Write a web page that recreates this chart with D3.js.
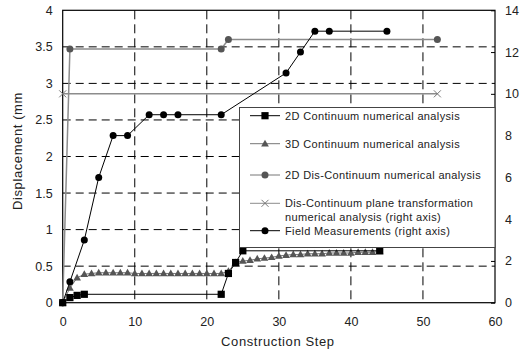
<!DOCTYPE html>
<html>
<head>
<meta charset="utf-8">
<script src="https://cdn.jsdelivr.net/npm/d3@7"></script>
<style>
  body { margin: 0; background: #fff; }
  text { font-family: "Liberation Sans", Arial, sans-serif; fill: #222; }
</style>
</head>
<body>
<script>
// 数据：值
var xTicks = [0, 10, 20, 30, 40, 50, 60];
var yLeftTicks = [0, 0.5, 1, 1.5, 2, 2.5, 3, 3.5, 4];
var yRightTicks = [0, 2, 4, 6, 8, 10, 12, 14];

// 2D Continuum (left axis)
var cont2DSteps = [0, 1, 2, 3, 22, 23, 24, 25, 44];
var cont2DValues = [0, 0.07, 0.10, 0.115, 0.115, 0.40, 0.55, 0.71, 0.71];

// 3D Continuum (left axis)
var cont3DSteps = [0, 1, 2, 3, 4, 5, 6, 7, 8, 9, 10, 11, 12, 13, 14, 15, 16, 17, 18, 19, 20, 21, 22,
  23, 24, 25, 26, 27, 28, 29, 30, 31, 32, 33, 34, 35, 36, 37, 38, 39, 40, 41, 42, 43, 44];
var cont3DValues = [0, 0.20, 0.34, 0.39, 0.40, 0.41, 0.41, 0.41, 0.41, 0.41, 0.40, 0.40, 0.40, 0.40, 0.40,
  0.40, 0.40, 0.40, 0.40, 0.40, 0.40, 0.40, 0.40,
  0.43, 0.55, 0.57, 0.58, 0.60, 0.61, 0.62, 0.64, 0.65, 0.66, 0.66, 0.67, 0.67, 0.67, 0.68, 0.68,
  0.68, 0.68, 0.69, 0.69, 0.69, 0.70];

// 2D Dis-Continuum (left axis)
var disc2DSteps = [0, 1, 22, 23, 52];
var disc2DValues = [0, 3.47, 3.47, 3.6, 3.6];

// Dis-Continuum plane transformation (right axis)
var planeSteps = [0, 52];
var planeValues = [10, 10];

// Field Measurements (right axis)
var fieldSteps = [0, 1, 3, 5, 7, 9, 12, 14, 16, 22, 31, 33, 35, 37, 45];
var fieldValues = [0, 1.0, 3.0, 6.0, 8.0, 8.0, 9.0, 9.0, 9.0, 9.0, 11.0, 12.0, 13.0, 13.0, 13.0];

var legendNames = [
  ["2D Continuum numerical analysis"],
  ["3D Continuum numerical analysis"],
  ["2D Dis-Continuum numerical analysis"],
  ["Dis-Continuum plane transformation", "numerical analysis (right axis)"],
  ["Field Measurements (right axis)"]
];

var width = 526, height = 351;
var margin = { top: 10.3, right: 31, bottom: 48.3, left: 62.7 };
var x0 = margin.left, x1 = width - margin.right;
var yTop = margin.top, yBot = height - margin.bottom;

var svg = d3.select("body").append("svg").attr("width", width).attr("height", height);

var x = d3.scaleLinear().domain([0, 60]).range([x0, x1]);
var yL = d3.scaleLinear().domain([0, 4]).range([yBot, yTop]);
var yR = d3.scaleLinear().domain([0, 14]).range([yBot, yTop]);

// 网格线
var grid = svg.append("g");
grid.selectAll(".hg").data(yLeftTicks.filter(function (d) { return d > 0 && d < 4; }))
  .enter().append("line")
  .attr("x1", x0).attr("x2", x1)
  .attr("y1", function (d) { return yL(d); }).attr("y2", function (d) { return yL(d); })
  .attr("stroke", "#000").attr("stroke-width", 1).attr("stroke-dasharray", "8,5");
grid.selectAll(".vg").data(xTicks.filter(function (d) { return d > 0 && d < 60; }))
  .enter().append("line")
  .attr("x1", function (d) { return x(d); }).attr("x2", function (d) { return x(d); })
  .attr("y1", yTop).attr("y2", yBot)
  .attr("stroke", "#000").attr("stroke-width", 1).attr("stroke-dasharray", "9,5");

// 坐标轴
var axL = svg.append("g").attr("transform", "translate(" + x0 + ",0)")
  .call(d3.axisLeft(yL).tickValues(yLeftTicks).tickSize(0).tickPadding(10).tickFormat(d3.format("")));
var axR = svg.append("g").attr("transform", "translate(" + x1 + ",0)")
  .call(d3.axisRight(yR).tickValues(yRightTicks).tickSizeInner(-4).tickSizeOuter(0).tickPadding(10));
var axB = svg.append("g").attr("transform", "translate(0," + yBot + ")")
  .call(d3.axisBottom(x).tickValues(xTicks).tickSize(0).tickPadding(14));
[axL, axR, axB].forEach(function (a) {
  a.select(".domain").remove();
  a.selectAll("text").style("font-size", "12.5px").attr("fill", "#333");
  a.selectAll("line").attr("stroke", "#000");
});

svg.append("rect").attr("x", x0).attr("y", yTop)
  .attr("width", x1 - x0).attr("height", yBot - yTop)
  .attr("fill", "none").attr("stroke", "#000").attr("stroke-width", 1.2);

// 轴标题
svg.append("text").attr("x", (x0 + x1) / 2 - 1).attr("y", 346)
  .attr("text-anchor", "middle").style("font-size", "13px").style("letter-spacing", "0.6px")
  .attr("fill", "#333").text("Construction Step");
svg.append("text").attr("transform", "translate(22,151) rotate(-90)")
  .attr("text-anchor", "middle").style("font-size", "13px").style("letter-spacing", "0.6px")
  .attr("fill", "#333").text("Displacement (mm");

function toPts(steps, vals, ys) {
  return steps.map(function (s, i) { return [x(s), ys(vals[i])]; });
}
var line = d3.line();

function drawMarker(g, type, cx, cy, fill, stroke) {
  if (type === "square") {
    g.append("rect").attr("x", cx - 3.6).attr("y", cy - 3.6).attr("width", 7.2).attr("height", 7.2)
      .attr("fill", fill);
  } else if (type === "triangle") {
    g.append("path").attr("d", d3.symbol().type(d3.symbolTriangle).size(26)())
      .attr("transform", "translate(" + cx + "," + (cy + 0.5) + ")").attr("fill", fill);
  } else if (type === "circle") {
    g.append("circle").attr("cx", cx).attr("cy", cy).attr("r", 3.5).attr("fill", fill);
  } else if (type === "x") {
    g.append("path").attr("d", "M-3.5,-3.5L3.5,3.5M-3.5,3.5L3.5,-3.5")
      .attr("transform", "translate(" + cx + "," + cy + ")")
      .attr("stroke", stroke).attr("stroke-width", 1).attr("fill", "none");
  }
}

var series = [
  { steps: planeSteps, vals: planeValues, y: yR, lc: "#8c8c8c", lw: 1.5, mk: "x", mf: "#777", ms: "#777" },
  { steps: disc2DSteps, vals: disc2DValues, y: yL, lc: "#8c8c8c", lw: 1.5, mk: "circle", mf: "#555", ms: "#555" },
  { steps: cont3DSteps, vals: cont3DValues, y: yL, lc: "#777", lw: 1, mk: "triangle", mf: "#555", ms: "#555" },
  { steps: cont2DSteps, vals: cont2DValues, y: yL, lc: "#000", lw: 1, mk: "square", mf: "#000", ms: "#000" },
  { steps: fieldSteps, vals: fieldValues, y: yR, lc: "#000", lw: 1, mk: "circle", mf: "#000", ms: "#000" }
];

series.forEach(function (s) {
  var g = svg.append("g");
  var pts = toPts(s.steps, s.vals, s.y);
  g.append("path").attr("d", line(pts)).attr("fill", "none")
    .attr("stroke", s.lc).attr("stroke-width", s.lw);
  pts.forEach(function (p) { drawMarker(g, s.mk, p[0], p[1], s.mf, s.ms); });
});

// 图例
var lg = svg.append("g");
lg.append("rect").attr("x", 239.5).attr("y", 107.5).attr("width", x1 - 239.5).attr("height", 140)
  .attr("fill", "#fff").attr("stroke", "#444").attr("stroke-width", 1);
var legendStyle = [
  { y: 115.7, lc: "#000", mk: "square", mf: "#000" },
  { y: 143.7, lc: "#777", mk: "triangle", mf: "#555" },
  { y: 175, lc: "#777", mk: "circle", mf: "#555" },
  { y: 203.3, lc: "#8c8c8c", mk: "x", mf: "#777" },
  { y: 230.7, lc: "#000", mk: "circle", mf: "#000" }
];
legendStyle.forEach(function (st, i) {
  lg.append("line").attr("x1", 250).attr("x2", 280).attr("y1", st.y).attr("y2", st.y)
    .attr("stroke", st.lc).attr("stroke-width", 1);
  drawMarker(lg, st.mk, 265, st.y, st.mf, st.mf);
  legendNames[i].forEach(function (t, j) {
    lg.append("text").attr("x", 285).attr("y", st.y + 4 + j * 13.4)
      .style("font-size", "11px").style("letter-spacing", "0.36px").attr("fill", "#333").text(t);
  });
});
</script>
</body>
</html>
